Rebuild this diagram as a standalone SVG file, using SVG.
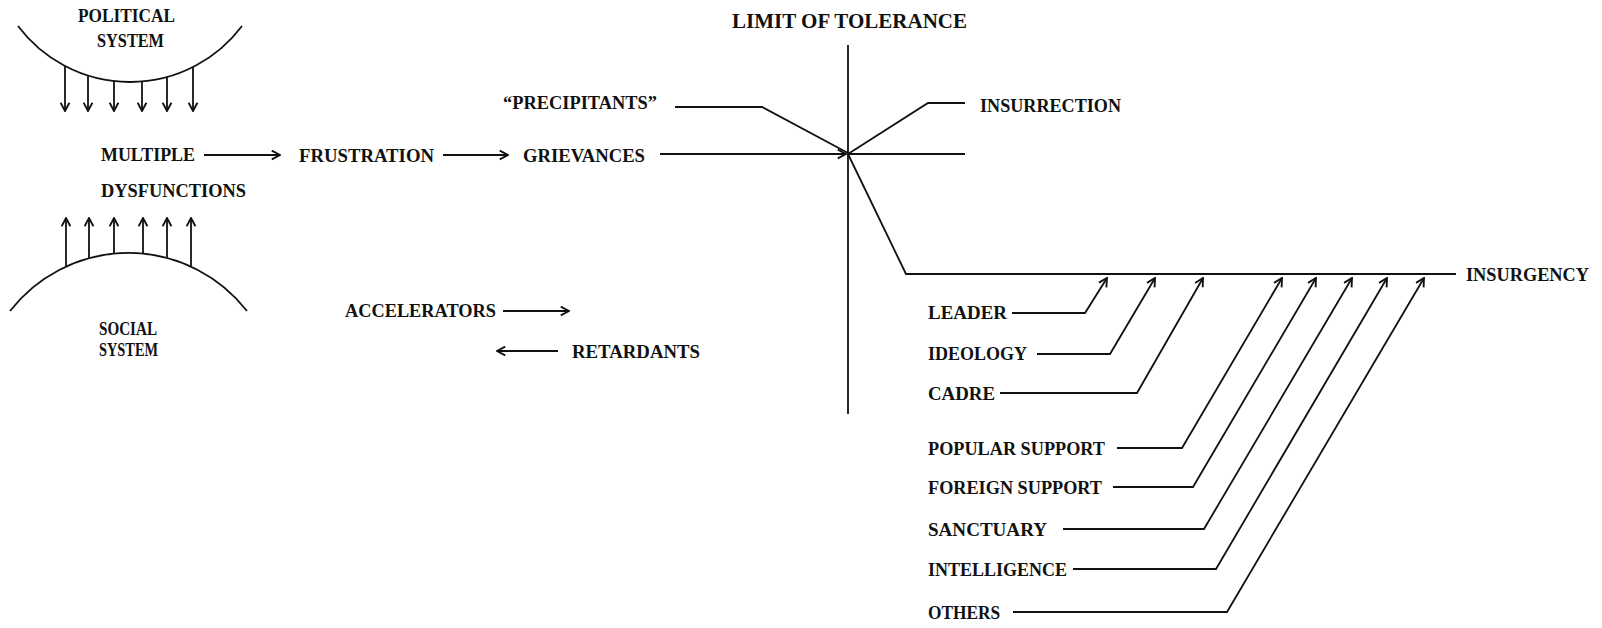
<svg xmlns="http://www.w3.org/2000/svg" width="1602" height="628" viewBox="0 0 1602 628">
<style>
  text { font-family: "Liberation Serif", "Times New Roman", serif; font-weight: bold; font-size: 18px; fill: #111; }
  .title { font-size: 20px; }
  .ln { fill: none; stroke: #111; stroke-width: 1.8; stroke-linejoin: miter; }
  .arr { fill: none; stroke: #111; stroke-width: 1.8; marker-end: url(#ah); }
</style>
<defs>
  <marker id="ah" viewBox="0 0 10 10" refX="9" refY="5" markerWidth="11" markerHeight="11" markerUnits="userSpaceOnUse" orient="auto">
    <path d="M1.5,1 L9,5 L1.5,9" fill="none" stroke="#111" stroke-width="1.7"/>
  </marker>
</defs>
<rect width="1602" height="628" fill="#fff"/>

<g id="political-system">
  <path class="ln" d="M18,26 A140,140 0 0 0 242,26"/>
  <text x="78" y="22" textLength="97" lengthAdjust="spacingAndGlyphs">POLITICAL</text>
  <text x="97" y="47" textLength="67" lengthAdjust="spacingAndGlyphs">SYSTEM</text>
</g>
<g id="social-system">
  <path class="ln" d="M10,311 A150,150 0 0 1 247,311"/>
  <text x="99" y="335" textLength="58" lengthAdjust="spacingAndGlyphs">SOCIAL</text>
  <text x="99" y="356" textLength="59" lengthAdjust="spacingAndGlyphs">SYSTEM</text>
</g>
<g id="multiple-dysfunctions">
  <text x="101" y="161" textLength="94" lengthAdjust="spacingAndGlyphs">MULTIPLE</text>
  <text x="101" y="197" textLength="145" lengthAdjust="spacingAndGlyphs">DYSFUNCTIONS</text>
</g>
<g id="frustration"><text x="299" y="162" textLength="135" lengthAdjust="spacingAndGlyphs">FRUSTRATION</text></g>
<g id="grievances"><text x="523" y="162" textLength="122" lengthAdjust="spacingAndGlyphs">GRIEVANCES</text></g>
<g id="precipitants"><text x="503" y="109" textLength="154" lengthAdjust="spacingAndGlyphs">“PRECIPITANTS”</text></g>
<g id="accelerators"><text x="345" y="317" textLength="151" lengthAdjust="spacingAndGlyphs">ACCELERATORS</text></g>
<g id="retardants"><text x="572" y="358" textLength="128" lengthAdjust="spacingAndGlyphs">RETARDANTS</text></g>
<g id="limit-of-tolerance"><text class="title" x="732" y="28" textLength="235" lengthAdjust="spacingAndGlyphs">LIMIT OF TOLERANCE</text></g>
<g id="insurrection"><text x="980" y="112" textLength="141" lengthAdjust="spacingAndGlyphs">INSURRECTION</text></g>
<g id="insurgency"><text x="1466" y="281" textLength="123" lengthAdjust="spacingAndGlyphs">INSURGENCY</text></g>
<g id="leader"><text x="928" y="319" textLength="79" lengthAdjust="spacingAndGlyphs">LEADER</text></g>
<g id="ideology"><text x="928" y="360" textLength="99" lengthAdjust="spacingAndGlyphs">IDEOLOGY</text></g>
<g id="cadre"><text x="928" y="400" textLength="67" lengthAdjust="spacingAndGlyphs">CADRE</text></g>
<g id="popular-support"><text x="928" y="455" textLength="177" lengthAdjust="spacingAndGlyphs">POPULAR SUPPORT</text></g>
<g id="foreign-support"><text x="928" y="494" textLength="174" lengthAdjust="spacingAndGlyphs">FOREIGN SUPPORT</text></g>
<g id="sanctuary"><text x="928" y="536" textLength="119" lengthAdjust="spacingAndGlyphs">SANCTUARY</text></g>
<g id="intelligence"><text x="928" y="576" textLength="139" lengthAdjust="spacingAndGlyphs">INTELLIGENCE</text></g>
<g id="others"><text x="928" y="619" textLength="72" lengthAdjust="spacingAndGlyphs">OTHERS</text></g>

<g id="connectors">
  <!-- political system down arrows -->
  <line class="arr" x1="65" y1="66" x2="65" y2="111"/>
  <line class="arr" x1="88" y1="75" x2="88" y2="111"/>
  <line class="arr" x1="114" y1="81" x2="114" y2="111"/>
  <line class="arr" x1="142" y1="81" x2="142" y2="111"/>
  <line class="arr" x1="167" y1="77" x2="167" y2="111"/>
  <line class="arr" x1="193" y1="67" x2="193" y2="111"/>
  <!-- social system up arrows -->
  <line class="arr" x1="66" y1="266" x2="66" y2="218"/>
  <line class="arr" x1="89" y1="258" x2="89" y2="218"/>
  <line class="arr" x1="114" y1="254" x2="114" y2="218"/>
  <line class="arr" x1="143" y1="254" x2="143" y2="218"/>
  <line class="arr" x1="167" y1="258" x2="167" y2="218"/>
  <line class="arr" x1="191" y1="266" x2="191" y2="218"/>
  <!-- chain -->
  <line class="arr" x1="204" y1="155" x2="280" y2="155"/>
  <line class="arr" x1="443" y1="155" x2="508" y2="155"/>
  <line class="arr" x1="660" y1="154" x2="846" y2="154"/>
  <line class="arr" x1="503" y1="311" x2="569" y2="311"/>
  <line class="arr" x1="558" y1="351" x2="497" y2="351"/>
  <!-- limit of tolerance axis -->
  <line class="ln" x1="848" y1="45" x2="848" y2="414"/>
  <polyline class="ln" points="675,107 762,107 848,153"/>
  <line class="ln" x1="848" y1="154" x2="965" y2="154"/>
  <polyline class="ln" points="848,154 928,103 965,103"/>
  <polyline class="ln" points="848,154 906,274 1456,274"/>
  <!-- insurgency factors -->
  <polyline class="arr" points="1012,313 1085,313 1107,278"/>
  <polyline class="arr" points="1037,354 1110,354 1155,278"/>
  <polyline class="arr" points="1000,393 1137,393 1203,278"/>
  <polyline class="arr" points="1117,448 1182,448 1282,278"/>
  <polyline class="arr" points="1113,487 1193,487 1316,278"/>
  <polyline class="arr" points="1063,529 1204,529 1352,278"/>
  <polyline class="arr" points="1073,569 1216,569 1387,278"/>
  <polyline class="arr" points="1013,612 1227,612 1424,278"/>
</g>
</svg>
